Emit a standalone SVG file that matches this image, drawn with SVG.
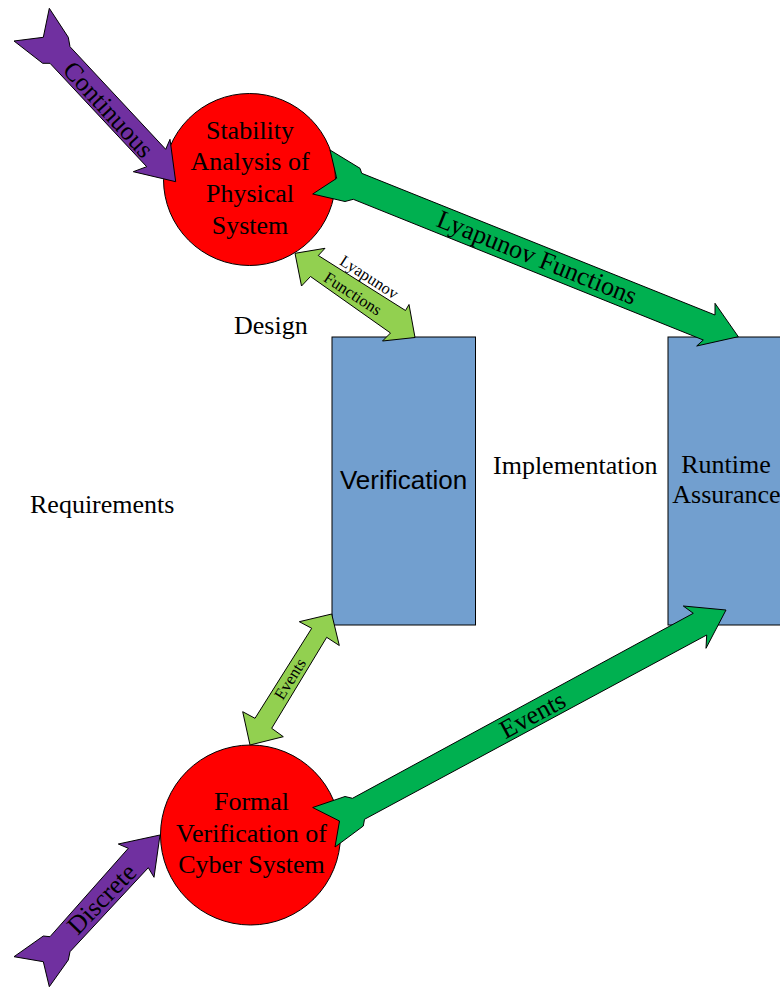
<svg xmlns="http://www.w3.org/2000/svg" width="780" height="989" viewBox="0 0 780 989">
<style>
.t{font-family:"Liberation Serif","Times New Roman",serif;font-size:26px;fill:#000}
.s{font-family:"Liberation Serif","Times New Roman",serif;font-size:16.5px;fill:#000}
.sans{font-family:"Liberation Sans",Arial,sans-serif;font-size:26px;fill:#000}
.circ{fill:#ff0000;stroke:#000;stroke-width:1}
.box{fill:#729fcf;stroke:#000;stroke-width:1}
.purple{fill:#7030a0;stroke:#000;stroke-width:1;stroke-linejoin:miter}
.dg{fill:#00b050;stroke:#000;stroke-width:1}
.lg{fill:#92d050;stroke:#000;stroke-width:1}
</style>
<rect width="780" height="989" fill="#fff"/>
<g id="stability">
<circle class="circ" cx="249.5" cy="179.5" r="86"/>
<text class="t" text-anchor="middle"><tspan x="250" y="138.5">Stability</tspan><tspan x="250" y="170.2">Analysis of</tspan><tspan x="250" y="201.9">Physical</tspan><tspan x="250" y="233.6">System</tspan></text>
</g>
<g id="formal">
<circle class="circ" cx="250.5" cy="835" r="90"/>
<text class="t" text-anchor="middle"><tspan x="251.5" y="810">Formal</tspan><tspan x="251.5" y="841.7">Verification of</tspan><tspan x="251.5" y="873.3">Cyber System</tspan></text>
</g>
<g id="verification">
<rect class="box" x="332" y="337" width="143.5" height="288"/>
<text class="sans" text-anchor="middle" x="403.5" y="489">Verification</text>
</g>
<g id="runtime">
<rect class="box" x="668" y="337" width="143.5" height="288"/>
<text class="t" text-anchor="middle"><tspan x="726" y="473.3">Runtime</tspan><tspan x="726.5" y="503.3">Assurance</tspan></text>
</g>
<g id="design"><text class="t" x="234" y="333.5">Design</text></g>
<g id="requirements"><text class="t" x="30" y="513">Requirements</text></g>
<g id="implementation"><text class="t" x="493" y="474">Implementation</text></g>
<g id="connectors">
<g id="continuous">
<path class="purple" d="M49.3,8.3 L68.3,37.3 L70,46.7 L165.7,149.3 L170,139.3 L175.7,181.7 L133.3,171.7 L146.7,166.7 L50,63.3 L42.7,63.3 L14,41 L43.3,37.3 Z"/>
<text class="t" text-anchor="middle" transform="translate(108.3,109.5) rotate(47.5)" y="8.5">Continuous</text>
</g>
<g id="discrete">
<path class="purple" d="M160,835 L118.3,844 L128.3,848.3 L50,936.7 L43.3,936 L14,956.7 L43.3,961.7 L49.3,986.7 L68.3,960 L70,951.7 L148.3,867.7 L154,877.3 Z"/>
<text class="t" text-anchor="middle" transform="translate(101.7,899) rotate(-46)" y="8.5">Discrete</text>
</g>
<g id="lyapunov-big">
<path class="dg" d="M330,150 L360,168.3 L361.7,173.3 L715,315 L715,303.3 L738.3,336.7 L696.7,346 L703.3,340 L353.3,199.3 L345,201.5 L312.7,194 L336.7,178.3 Z"/>
<text class="t" text-anchor="middle" transform="translate(537,257.5) rotate(21.9)" y="8.5">Lyapunov Functions</text>
</g>
<g id="events-big">
<path class="dg" d="M345,796.5 L352.5,798.3 L693.3,613.3 L683.3,606 L726,610 L706,648.3 L706.7,635 L364.5,819.3 L363.3,826 L335,847 L339.5,821 L312.7,807.5 Z"/>
<text class="t" text-anchor="middle" transform="translate(532.5,715) rotate(-28.4)" y="8.5">Events</text>
</g>
<g id="lyapunov-small">
<path class="lg" d="M295,253.3 L325,248.3 L318.3,255.5 L405.5,310.5 L409,304.5 L415,337.5 L382.5,341 L390.5,333 L310.5,276.5 L301.5,286 Z"/>
<text class="s" text-anchor="middle" transform="translate(369,277.5) rotate(33)" y="5">Lyapunov</text>
<text class="s" text-anchor="middle" transform="translate(352.5,294) rotate(33)" y="5">Functions</text>
</g>
<g id="events-small">
<path class="lg" d="M331.7,614 L299.3,621.7 L311.7,628.3 L255,718.3 L242.7,711.7 L250,745 L283.3,736.7 L271.7,728.3 L326.7,637.3 L339.3,645.5 Z"/>
<text class="s" text-anchor="middle" transform="translate(290,679) rotate(-58)" y="5.5">Events</text>
</g>
</g>
</svg>
